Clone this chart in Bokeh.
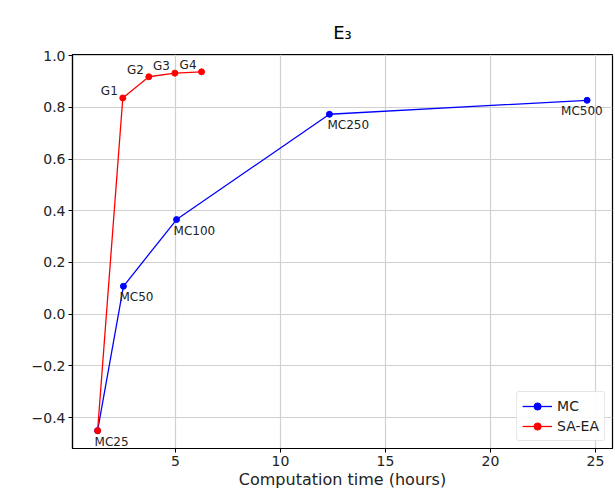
from bokeh.plotting import figure
from bokeh.models import ColumnDataSource, Range1d, FixedTicker, CustomJSTickFormatter, Legend, LegendItem
from bokeh.embed import file_html
from bokeh.resources import INLINE
from bokeh.core.properties import value

# ---- data ----
mc_time = [1.29, 2.52, 5.05, 12.33, 24.6]
mc_score = [-0.45, 0.108, 0.366, 0.773, 0.827]
mc_labels = ["MC25", "MC50", "MC100", "MC250", "MC500"]

sa_time = [1.29, 2.49, 3.73, 4.97, 6.24]
sa_score = [-0.45, 0.836, 0.918, 0.932, 0.937]
sa_labels = ["", "G1", "G2", "G3", "G4"]

x_ticks = [5, 10, 15, 20, 25]
y_ticks = [-0.4, -0.2, 0.0, 0.2, 0.4, 0.6, 0.8, 1.0]

title_text = "E\u2083"
x_label = "Computation time (hours)"

# label styling (offsets in screen pixels)
mc_label_dx = [-3, -4, -3, -2, -26]
FONT = "DejaVu Sans"

p = figure(width=615, height=491, output_backend="svg", toolbar_location=None,
           x_range=Range1d(0.095, 25.81), y_range=Range1d(-0.519, 1.004),
           min_border_left=72, min_border_right=3, min_border_top=54, min_border_bottom=42)

p.title.text = title_text
p.title.align = "center"
p.title.text_font = FONT
p.title.text_font_size = "18px"
p.title.text_font_style = "normal"
p.title.text_color = "black"
p.title.offset = 0
p.title.standoff = 24

p.outline_line_color = "black"
p.outline_line_width = 1.2
p.background_fill_color = "white"
p.border_fill_color = "white"

for ax in (p.xaxis[0], p.yaxis[0]):
    ax.axis_line_color = "black"
    ax.axis_line_width = 1.2
    ax.major_tick_line_color = "black"
    ax.major_tick_in = 0
    ax.major_tick_out = 4
    ax.minor_tick_line_color = None
    ax.major_label_text_font = FONT
    ax.major_label_text_font_size = "14px"
    ax.major_label_text_color = "#222222"
    ax.major_label_standoff = 3

p.xaxis.ticker = FixedTicker(ticks=x_ticks)
p.yaxis.ticker = FixedTicker(ticks=y_ticks)
p.yaxis.formatter = CustomJSTickFormatter(code="return tick.toFixed(1).replace('-', '\u2212');")
p.xaxis.formatter = CustomJSTickFormatter(code="return tick.toFixed(0);")
p.xaxis.axis_label = x_label
p.xaxis.axis_label_text_font = FONT
p.xaxis.axis_label_text_font_size = "16px"
p.xaxis.axis_label_text_font_style = "normal"
p.xaxis.axis_label_text_color = "#222222"
p.xaxis.axis_label_standoff = 1

p.xgrid.grid_line_color = "#d0d0d0"
p.ygrid.grid_line_color = "#d0d0d0"
p.xgrid.grid_line_width = 1.2
p.ygrid.grid_line_width = 1.2

mc_src = ColumnDataSource(dict(x=mc_time, y=mc_score, t=mc_labels, dx=mc_label_dx))
sa_src = ColumnDataSource(dict(x=sa_time, y=sa_score, t=sa_labels))

mc_line = p.line("x", "y", source=mc_src, line_color="#0000ff", line_width=1.3)
mc_pts = p.scatter("x", "y", source=mc_src, size=6, fill_color="#0000ff", line_color="#0000ff")
sa_line = p.line("x", "y", source=sa_src, line_color="#ff0000", line_width=1.3)
sa_pts = p.scatter("x", "y", source=sa_src, size=6, fill_color="#ff0000", line_color="#ff0000")

p.text("x", "y", text="t", source=mc_src, x_offset="dx", y_offset=4,
       text_align="left", text_baseline="top", text_font=value(FONT),
       text_font_size="12px", text_color="#222222")
p.text("x", "y", text="t", source=sa_src, x_offset=-5, y_offset=0,
       text_align="right", text_baseline="bottom", text_font=value(FONT),
       text_font_size="12px", text_color="#222222")

legend = Legend(items=[LegendItem(label="MC", renderers=[mc_line, mc_pts]),
                       LegendItem(label="SA-EA", renderers=[sa_line, sa_pts])],
                location="bottom_right")
legend.label_text_font = FONT
legend.label_text_font_size = "14px"
legend.label_text_color = "#222222"
legend.border_line_color = "#cccccc"
legend.border_line_width = 1
legend.border_radius = 3
legend.background_fill_alpha = 0.9
legend.glyph_width = 30
legend.glyph_height = 18
legend.spacing = 2
legend.padding = 5
legend.margin = 7
p.add_layout(legend)

open("out.html", "w").write(file_html(p, INLINE))
